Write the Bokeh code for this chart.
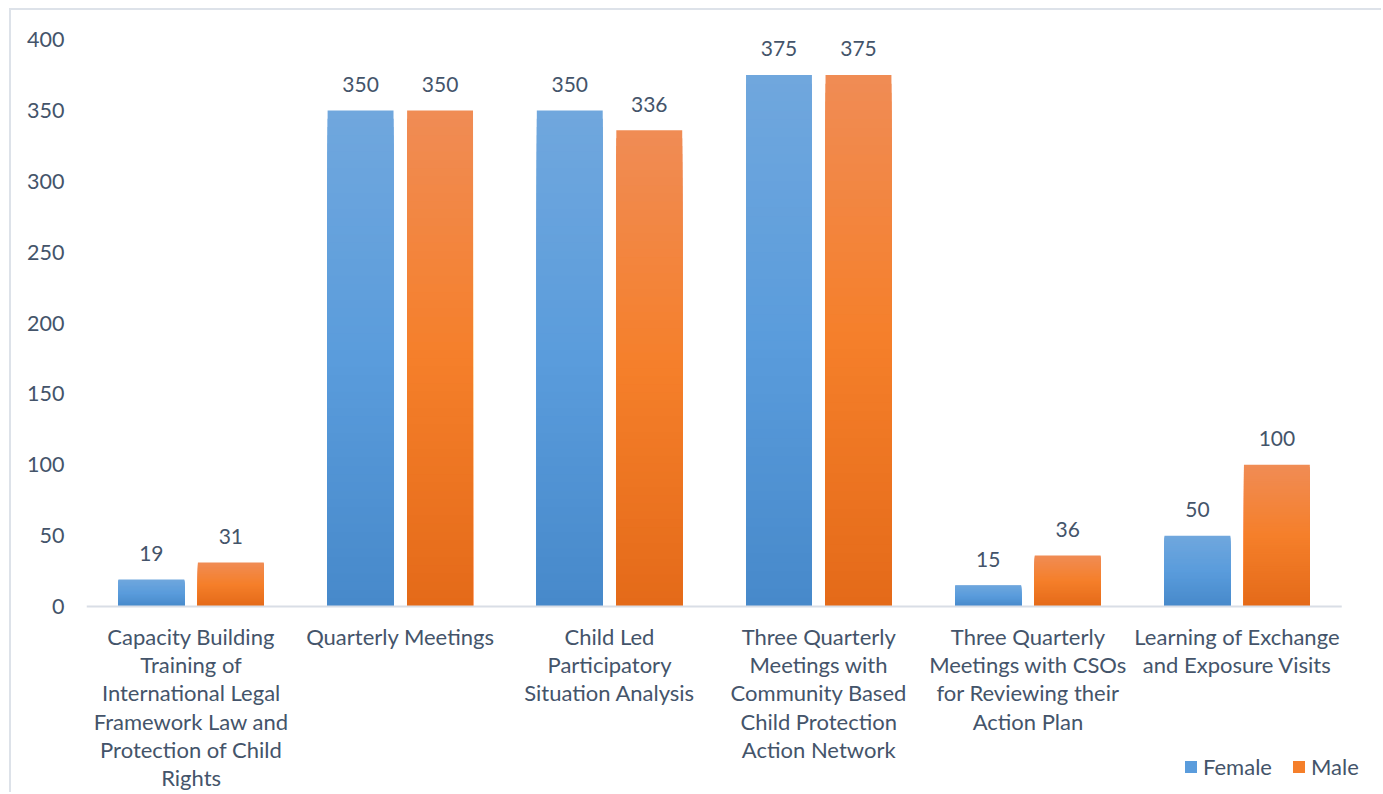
from bokeh.plotting import figure
from bokeh.models import Range1d, FixedTicker, Legend, LegendItem, ColumnDataSource
from bokeh.core.properties import value
from bokeh.embed import file_html
from bokeh.resources import INLINE

categories = [
    "Capacity Building\nTraining of\nInternational Legal\nFramework Law and\nProtection of Child\nRights",
    "Quarterly Meetings",
    "Child Led\nParticipatory\nSituation Analysis",
    "Three Quarterly\nMeetings with\nCommunity Based\nChild Protection\nAction Network",
    "Three Quarterly\nMeetings with CSOs\nfor Reviewing their\nAction Plan",
    "Learning of Exchange\nand Exposure Visits",
]
female = [19, 350, 350, 375, 15, 50]
male = [31, 350, 336, 375, 36, 100]
y_ticks = [0, 50, 100, 150, 200, 250, 300, 350, 400]

FONT = "Lato"
TXT = "#44546A"
N = 60  # gradient bands per bar

blue_stops = [(112, 167, 221), (90, 156, 220), (71, 137, 202)]
orange_stops = [(240, 140, 85), (245, 127, 42), (228, 106, 25)]


def grad(stops, t):
    # t=0 top, t=1 bottom
    if t <= 0.5:
        a, b, f = stops[0], stops[1], t / 0.5
    else:
        a, b, f = stops[1], stops[2], (t - 0.5) / 0.5
    c = [round(a[i] + (b[i] - a[i]) * f) for i in range(3)]
    return "#%02x%02x%02x" % tuple(c)


def bands(vals, offset, stops):
    # overlapping bars from 0 up to a fraction of the value, tallest first,
    # each coloured for its top band -> vertical gradient without seams
    xs, tops, cols = [], [], []
    for k in range(N):
        frac = (N - k) / N
        for i, v in enumerate(vals):
            xs.append(i + 0.5 + offset)
            tops.append(v * frac)
            cols.append(grad(stops, 1 - frac + 0.5 / N))
    return ColumnDataSource(dict(x=xs, top=tops, color=cols))


ncat = len(categories)
p = figure(
    width=1372, height=784,
    x_range=Range1d(0, ncat + 0.19), y_range=Range1d(-132.6, 400),
    x_axis_location=None,
    output_backend="svg", toolbar_location=None,
    min_border_left=75, min_border_right=2, min_border_top=29, min_border_bottom=0,
)
p.styles = {"margin-left": "9px", "margin-top": "8px",
            "border-left": "2px solid #DDE2E9", "border-top": "2px solid #DDE2E9"}
p.outline_line_color = None
p.xgrid.visible = False
p.ygrid.visible = False

p.yaxis.ticker = FixedTicker(ticks=y_ticks)
p.yaxis.axis_line_color = None
p.yaxis.major_tick_line_color = None
p.yaxis.minor_tick_line_color = None
p.yaxis.major_label_standoff = 16
p.yaxis.major_label_text_font = FONT
p.yaxis.major_label_text_font_size = "21.5px"
p.yaxis.major_label_text_color = TXT

off = 0.19
bw = 0.315
sf = bands(female, -off, blue_stops)
sm = bands(male, off, orange_stops)
rf = p.vbar(x="x", bottom=0, top="top", width=bw, source=sf,
            fill_color="color", line_color=None)
rm = p.vbar(x="x", bottom=0, top="top", width=bw, source=sm,
            fill_color="color", line_color=None)

# category axis line
p.segment(x0=[0], y0=[0], x1=[ncat], y1=[0], line_color="#D9DEE6", line_width=2)

xf = [i + 0.5 - off for i in range(len(female))]
xm = [i + 0.5 + off for i in range(len(male))]
p.text(x=xf, y=female, text=[str(v) for v in female], text_align="center",
       text_baseline="alphabetic", y_offset=-26, text_font=value(FONT),
       text_font_size="21px", text_color=TXT)
p.text(x=xm, y=male, text=[str(v) for v in male], text_align="center",
       text_baseline="alphabetic", y_offset=-26, text_font=value(FONT),
       text_font_size="21px", text_color=TXT)

p.text(x=[i + 0.5 for i in range(ncat)], y=[0] * ncat,
       text=categories, text_align="center", text_baseline="top", y_offset=16,
       text_font=value(FONT), text_font_size="22px", text_color=TXT,
       text_line_height=1.05)

mid = N // 2
legend = Legend(items=[
    LegendItem(label="Female", renderers=[rf], index=len(female) * mid),
    LegendItem(label="Male", renderers=[rm], index=len(male) * mid),
], orientation="horizontal", location=(1097, 14),
    background_fill_alpha=0, border_line_color=None, padding=0, margin=0,
    glyph_width=15, glyph_height=15, label_standoff=5, spacing=19,
    label_text_font=FONT, label_text_font_size="22px", label_text_color=TXT)
p.add_layout(legend, "center")

open("out.html", "w").write(file_html(p, INLINE))
